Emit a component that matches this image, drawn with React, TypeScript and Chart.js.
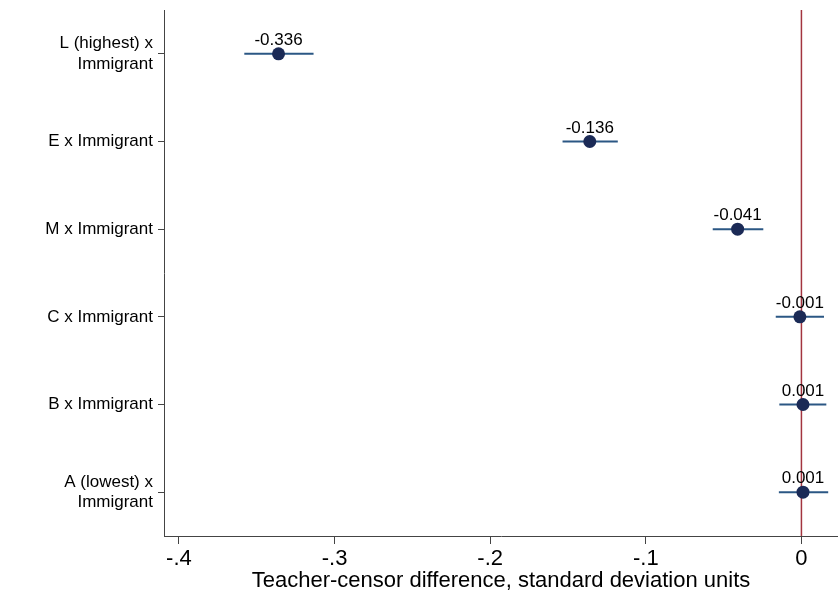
import React, { useEffect, useRef } from "react";
import { Chart, registerables } from "chart.js";

Chart.register(...registerables);

const categoryLines: string[][] = [
  ["L (highest) x", "Immigrant"],
  ["E x Immigrant"],
  ["M x Immigrant"],
  ["C x Immigrant"],
  ["B x Immigrant"],
  ["A (lowest) x", "Immigrant"],
];
const estimates = [-0.336, -0.136, -0.041, -0.001, 0.001, 0.001];
const ciLow = [-0.358, -0.1535, -0.057, -0.0165, -0.0142, -0.0145];
const ciHigh = [-0.3135, -0.118, -0.0245, 0.0145, 0.016, 0.0172];
const xTicks = [-0.4, -0.3, -0.2, -0.1, 0];
const xTickLabels = ["-.4", "-.3", "-.2", "-.1", "0"];
const xTitle = "Teacher-censor difference, standard deviation units";

const FONT = "'Liberation Sans', Arial, Helvetica, sans-serif";

export default function App() {
  const ref = useRef<HTMLCanvasElement | null>(null);

  useEffect(() => {
    if (!ref.current) return;
    const rowY = categoryLines.map((_, i) => i + 1);

    const ciDatasets = estimates.map((_, i) => ({
      type: "scatter" as const,
      data: [
        { x: ciLow[i], y: rowY[i] },
        { x: ciHigh[i], y: rowY[i] },
      ],
      showLine: true,
      borderColor: "#2b5784",
      borderWidth: 2,
      pointRadius: 0,
      order: 2,
    }));

    const labelPlugin = {
      id: "valueLabels",
      afterDatasetsDraw(chart: any) {
        const ctx = chart.ctx;
        const xs = chart.scales.x;
        const ys = chart.scales.y;
        ctx.save();
        ctx.font = `17px ${FONT}`;
        ctx.fillStyle = "#000";
        ctx.textAlign = "center";
        ctx.textBaseline = "alphabetic";
        estimates.forEach((v, i) => {
          const px = xs.getPixelForValue(v);
          const py = ys.getPixelForValue(rowY[i]);
          ctx.fillText(v.toFixed(3), px, py - 9);
        });
        ctx.restore();
      },
    };

    const chart = new Chart(ref.current, {
      type: "scatter",
      data: {
        datasets: [
          {
            type: "scatter",
            data: estimates.map((v, i) => ({ x: v, y: rowY[i] })),
            pointRadius: 6.5,
            pointBackgroundColor: "#1b2a56",
            pointBorderColor: "#1b2a56",
            pointBorderWidth: 0,
            order: 0,
          } as any,
          {
            type: "scatter",
            data: [
              { x: 0, y: 0.5 },
              { x: 0, y: 6.5 },
            ],
            showLine: true,
            borderColor: "#a3343f",
            borderWidth: 1.5,
            pointRadius: 0,
            order: 1,
          } as any,
          ...(ciDatasets as any[]),
        ],
      },
      options: {
        responsive: false,
        animation: false,
        devicePixelRatio: 1,
        layout: { autoPadding: false, padding: { top: 10, right: 0, bottom: 0, left: 0 } },
        plugins: {
          legend: { display: false },
          tooltip: { enabled: false },
        },
        scales: {
          x: {
            type: "linear",
            min: -0.4096,
            max: 0.0235,
            afterBuildTicks: (scale: any) => {
              scale.ticks = xTicks.map((v) => ({ value: v }));
            },
            afterFit: (scale: any) => {
              scale.height = 58;
              scale.paddingLeft = 0;
              scale.paddingRight = 0;
            },
            ticks: {
              autoSkip: false,
              maxRotation: 0,
              padding: 2,
              color: "#000",
              font: { family: FONT, size: 22 },
              callback: (value: any) => {
                const idx = xTicks.findIndex((t) => Math.abs(t - Number(value)) < 1e-9);
                return idx >= 0 ? xTickLabels[idx] : "";
              },
            },
            grid: {
              drawOnChartArea: false,
              drawTicks: true,
              tickLength: 8,
              color: "#444",
            },
            border: { color: "#444", width: 1 },
            title: {
              display: true,
              text: xTitle,
              color: "#000",
              font: { family: FONT, size: 22 },
              padding: { top: 0, bottom: 0 },
            },
          },
          y: {
            type: "linear",
            min: 0.5,
            max: 6.5,
            reverse: true,
            afterBuildTicks: (scale: any) => {
              scale.ticks = rowY.map((v) => ({ value: v }));
            },
            afterFit: (scale: any) => {
              scale.width = 164;
              scale.paddingTop = 0;
              scale.paddingBottom = 0;
            },
            ticks: {
              autoSkip: false,
              padding: 5,
              color: "#000",
              font: { family: FONT, size: 17, lineHeight: 1.2 },
              callback: (value: any) => {
                const idx = rowY.indexOf(Number(value));
                return idx >= 0 ? categoryLines[idx] : "";
              },
            },
            grid: {
              drawOnChartArea: false,
              drawTicks: true,
              tickLength: 6,
              color: "#444",
            },
            border: { color: "#444", width: 1 },
          },
        },
      },
      plugins: [labelPlugin],
    } as any);

    return () => chart.destroy();
  }, []);

  return (
    <div style={{ position: "fixed", left: 0, top: 0, width: 838, height: 594, background: "#fff" }}>
      <canvas ref={ref} width={838} height={594} style={{ width: 838, height: 594 }} />
    </div>
  );
}
